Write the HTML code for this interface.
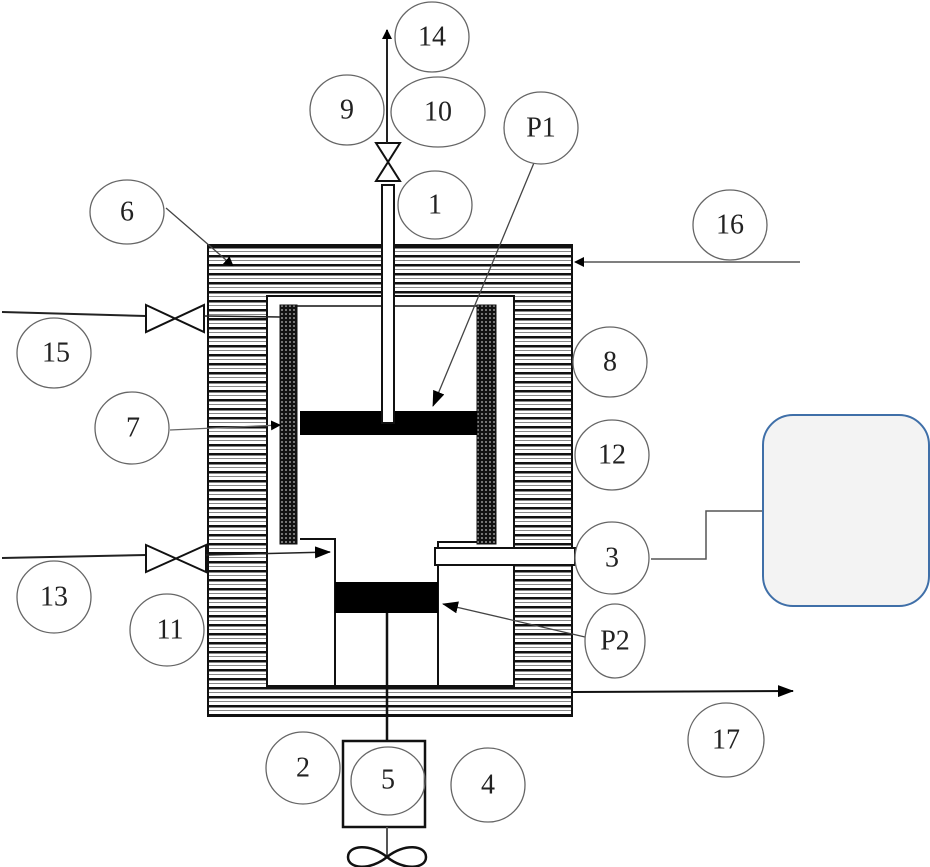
<!DOCTYPE html>
<html><head><meta charset="utf-8"><style>
html,body{margin:0;padding:0;background:#fff;}
svg{display:block;}
text{font-family:"Liberation Serif",serif;font-size:28px;fill:#222;text-anchor:middle;dominant-baseline:central;}
</style></head><body>
<svg width="930" height="867" viewBox="0 0 930 867" xmlns="http://www.w3.org/2000/svg">
<defs>
<pattern id="hatch" patternUnits="userSpaceOnUse" width="10" height="9" y="246">
<rect width="10" height="9" fill="#fff"/>
<rect y="0" width="10" height="2.5" fill="#111"/>
<rect y="5" width="10" height="1" fill="#888"/>
</pattern>
<pattern id="dots" patternUnits="userSpaceOnUse" width="4" height="4">
<rect width="4" height="4" fill="#111"/>
<circle cx="2" cy="2" r="0.9" fill="#bbb"/>
</pattern>
<marker id="ar" markerWidth="10" markerHeight="10" refX="9" refY="5" orient="auto" markerUnits="userSpaceOnUse">
<path d="M0,0 L10,5 L0,10 Z" fill="#000"/>
</marker>
<marker id="arL" markerWidth="16" markerHeight="12" refX="15" refY="6" orient="auto" markerUnits="userSpaceOnUse">
<path d="M0,0 L16,6 L0,12 Z" fill="#000"/>
</marker>
</defs>

<rect x="208" y="245" width="364" height="471" fill="url(#hatch)" stroke="#111" stroke-width="2"/>
<rect x="267" y="296" width="247" height="390" fill="#fff" stroke="#111" stroke-width="2"/>
<line x1="297" y1="306" x2="477" y2="306" stroke="#111" stroke-width="1.5"/>
<rect x="280" y="305" width="17" height="239" fill="url(#dots)" stroke="#111" stroke-width="1"/>
<rect x="477" y="305" width="19" height="239" fill="url(#dots)" stroke="#111" stroke-width="1"/>
<polyline points="300,539 335,539 335,686" fill="none" stroke="#111" stroke-width="2"/>
<polyline points="438,686 438,542 477,542" fill="none" stroke="#111" stroke-width="2"/>
<rect x="435" y="548" width="140" height="17" fill="#fff" stroke="#111" stroke-width="2"/>
<rect x="300" y="411" width="177" height="24" fill="#000"/>
<rect x="335" y="582" width="103" height="31" fill="#000"/>
<rect x="382" y="185" width="12" height="238" fill="#fff" stroke="#111" stroke-width="2"/>
<line x1="387" y1="613" x2="387" y2="741" stroke="#111" stroke-width="2.5"/>
<rect x="343" y="741" width="82" height="86" fill="#fff" stroke="#111" stroke-width="2.5"/>
<line x1="387" y1="827" x2="387" y2="857" stroke="#555" stroke-width="2"/>
<path d="M387,857 C370,843 348,845 348,857 C348,869 370,871 387,857 C404,843 426,845 426,857 C426,869 404,871 387,857 Z" fill="none" stroke="#111" stroke-width="2.5"/>

<path d="M376,143 L400,143 L376,181 L400,181 Z" fill="#fff" stroke="#111" stroke-width="2"/>
<line x1="387" y1="143" x2="387" y2="30" stroke="#222" stroke-width="2" marker-end="url(#ar)"/>

<line x1="2" y1="312" x2="146" y2="316" stroke="#222" stroke-width="2"/>
<path d="M146,305 L204,332 L204,305 L146,332 Z" fill="#fff" stroke="#111" stroke-width="2"/>
<line x1="204" y1="316" x2="280" y2="317" stroke="#222" stroke-width="1.5"/>
<line x1="2" y1="558" x2="146" y2="555" stroke="#222" stroke-width="2"/>
<path d="M146,545 L206,572 L206,545 L146,572 Z" fill="#fff" stroke="#111" stroke-width="2"/>
<line x1="206" y1="555" x2="330" y2="552" stroke="#222" stroke-width="1.5" marker-end="url(#arL)"/>

<line x1="166" y1="208" x2="233" y2="266" stroke="#444" stroke-width="1.3" marker-end="url(#ar)"/>
<line x1="170" y1="430" x2="280" y2="425" stroke="#666" stroke-width="1.3" marker-end="url(#ar)"/>
<line x1="536" y1="158" x2="433" y2="406" stroke="#444" stroke-width="1.3" marker-end="url(#arL)"/>
<line x1="585" y1="637" x2="443" y2="604" stroke="#444" stroke-width="1.3" marker-end="url(#arL)"/>
<line x1="800" y1="262" x2="575" y2="262" stroke="#333" stroke-width="1.3" marker-end="url(#ar)"/>
<line x1="572" y1="692" x2="793" y2="691" stroke="#111" stroke-width="2" marker-end="url(#arL)"/>
<polyline points="651,559 706,559 706,511 762,511" fill="none" stroke="#555" stroke-width="1.5"/>

<rect x="763" y="415" width="166" height="191" rx="30" fill="#f3f3f3" stroke="#3f6fa8" stroke-width="2"/>

<g fill="#fff" stroke="#666" stroke-width="1.3">
<ellipse cx="432" cy="37" rx="37" ry="35"/>
<ellipse cx="347" cy="110" rx="37" ry="35"/>
<ellipse cx="438" cy="112" rx="47" ry="35"/>
<ellipse cx="435" cy="205" rx="37" ry="34"/>
<ellipse cx="541" cy="128" rx="37" ry="36"/>
<ellipse cx="127" cy="212" rx="37" ry="32"/>
<ellipse cx="730" cy="225" rx="37" ry="35"/>
<ellipse cx="54" cy="353" rx="37" ry="35"/>
<ellipse cx="610" cy="362" rx="37" ry="35"/>
<ellipse cx="132" cy="428" rx="37" ry="36"/>
<ellipse cx="612" cy="455" rx="37" ry="35"/>
<ellipse cx="612" cy="558" rx="37" ry="36"/>
<ellipse cx="54" cy="597" rx="37" ry="36"/>
<ellipse cx="167" cy="630" rx="37" ry="36"/>
<ellipse cx="615" cy="641" rx="30" ry="37"/>
<ellipse cx="726" cy="740" rx="38" ry="37"/>
<ellipse cx="303" cy="768" rx="37" ry="36"/>
<ellipse cx="488" cy="785" rx="37" ry="37"/>
</g>
<ellipse cx="388" cy="781" rx="37" ry="34" fill="none" stroke="#666" stroke-width="1.3"/>
<text x="432" y="37">14</text>
<text x="347" y="110">9</text>
<text x="438" y="112">10</text>
<text x="435" y="205">1</text>
<text x="541" y="128">P1</text>
<text x="127" y="212">6</text>
<text x="730" y="225">16</text>
<text x="56" y="353">15</text>
<text x="610" y="362">8</text>
<text x="133" y="428">7</text>
<text x="612" y="455">12</text>
<text x="612" y="558">3</text>
<text x="54" y="597">13</text>
<text x="170" y="630">11</text>
<text x="615" y="641">P2</text>
<text x="726" y="740">17</text>
<text x="303" y="768">2</text>
<text x="388" y="780">5</text>
<text x="488" y="785">4</text>
</svg>
</body></html>
